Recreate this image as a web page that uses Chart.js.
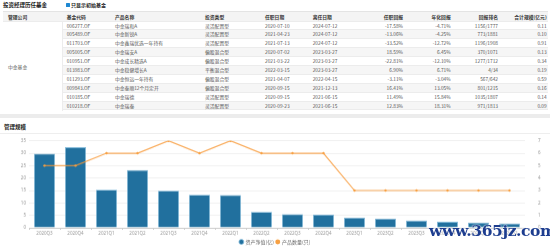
<!DOCTYPE html>
<html>
<head>
<meta charset="utf-8">
<script src="https://cdn.jsdelivr.net/npm/chart.js@4/dist/chart.umd.min.js"></script>
<style>
html, body { margin: 0; padding: 0; width: 550px; height: 246px; overflow: hidden; background: #fff; font-family: "Noto Sans CJK SC", "Noto Sans", sans-serif; }
.title { position: absolute; left: 3px; top: 1px; font-size: 5.5px; line-height: 8px; font-weight: bold; color: #222; }
.chk { position: absolute; left: 65.5px; top: 2.8px; width: 4px; height: 4px; background: #1e88d2; border-radius: 0.5px; }
.chk-text { position: absolute; left: 71px; top: 1px; font-size: 5px; line-height: 8px; font-weight: bold; color: #222; }
.tbl { position: absolute; left: 3px; top: 11px; width: 545px; }
.row { position: absolute; left: 0; width: 545px; height: 8.9px; font-size: 4.8px; line-height: 8.9px; color: #555; border-bottom: 0.5px solid #ececec; box-sizing: border-box; }
.row.head { background: #f4f4f4; color: #333; font-weight: bold; height: 10.5px; line-height: 10.5px; border-top: 0.5px solid #e4e4e4; }
.row.alt { background: #f6f6f6; }
.row span { position: absolute; top: 0; white-space: nowrap; }
.company { position: absolute; left: 3px; top: 21.5px; width: 60px; height: 89px; background: #fff; font-size: 4.8px; line-height: 89px; color: #555; padding-left: 5px; box-sizing: border-box; border-right: 0.5px solid #ececec; }
.band { position: absolute; left: 0; top: 113.5px; width: 550px; height: 4.5px; background: #ececec; }
.sub { position: absolute; left: 4px; top: 123px; font-size: 5.5px; line-height: 8px; font-weight: bold; color: #222; }
.sep { position: absolute; left: 0; top: 133px; width: 550px; height: 0.5px; background: #eeeeee; }
.wrap { position: absolute; left: 0; top: 133px; width: 550px; height: 120.5px; }
.mark { position: absolute; left: 429px; top: 221px; font-family: "DejaVu Serif", serif; font-weight: bold; font-size: 15.5px; letter-spacing: -0.4px; color: #1d3d8f; text-shadow: 0 0 1px #fff, 0 0 2px #fff; }
</style>
</head>
<body>
<div class="title">投资经理历任基金</div>
<div class="chk"></div>
<div class="chk-text">只显示初始基金</div>
<div class="tbl" id="tbl"></div>
<div class="company">中金基金</div>
<div class="band"></div>
<div class="sub">管理规模</div>
<div class="sep"></div>
<div class="wrap"><canvas id="chartScale"></canvas></div>
<div class="mark">www.365jz.com</div>
<script>
// table
var heads = ['管理公司', '基金代码', '产品名称', '投资类型', '任职日期', '离任日期', '任职回报', '年化回报', '回报排名', '合计规模(亿元)'];
var codes = ['006277.OF', '005489.OF', '011703.OF', '005005.OF', '010951.OF', '013983.OF', '011293.OF', '009843.OF', '010185.OF', '010218.OF'];
var names = ['中金瑞和A', '中金新锐A', '中金鑫瑞优选一年持有', '中金瑞安A', '中金成长精选A', '中金稳健增长A', '中金恒远一年持有', '中金泰顺12个月定开', '中金瑞德', '中金瑞泰'];
var types = ['灵活配置型', '灵活配置型', '灵活配置型', '偏股混合型', '偏股混合型', '平衡混合型', '偏股混合型', '偏股混合型', '灵活配置型', '灵活配置型'];
var startDates = ['2020-07-10', '2021-04-23', '2021-07-13', '2020-07-02', '2021-03-22', '2022-03-15', '2021-04-07', '2020-09-15', '2020-09-15', '2020-09-23'];
var endDates = ['2024-07-12', '2024-07-12', '2024-07-12', '2023-03-27', '2023-03-27', '2023-03-27', '2022-04-15', '2021-12-13', '2021-06-15', '2021-06-15'];
var returns = ['-17.58%', '-13.06%', '-33.52%', '18.59%', '-22.81%', '6.90%', '-3.11%', '16.41%', '11.49%', '12.83%'];
var annual = ['-4.71%', '-4.25%', '-12.72%', '6.45%', '-12.10%', '6.71%', '-3.04%', '13.05%', '15.84%', '18.31%'];
var ranks = ['1156/1777', '773/1881', '1196/1908', '370/1071', '1277/1712', '4/34', '567/642', '801/1215', '1035/1807', '971/1813'];
var sizes = ['0.11', '0.10', '0.91', '0.13', '0.34', '0.19', '0.59', '0.16', '0.14', '0.09'];

// column anchors: [x, align]
var cols = [[5, 'l'], [63.7, 'l'], [112, 'l'], [202, 'l'], [262, 'l'], [309.7, 'l'], [400, 'r'], [447.7, 'r'], [495, 'r'], [543.7, 'r']];

function cell(text, i) {
	var c = cols[i];
	if (c[1] == 'l') return `<span style="left:${c[0]}px">${text}</span>`;
	return `<span style="right:${545 - c[0]}px">${text}</span>`;
}

var tbl = document.getElementById('tbl');
var html = '<div class="row head" style="top:0">' + heads.map(cell).join('') + '</div>';
codes.forEach(function (code, r) {
	var vals = ['', code, names[r], types[r], startDates[r], endDates[r], returns[r], annual[r], ranks[r], sizes[r]];
	html += `<div class="row${r % 2 ? ' alt' : ''}" style="top:${10.5 + r * 8.9}px">` + vals.map(cell).join('') + '</div>';
});
tbl.innerHTML = html;

// chart
var quarters = ['2020Q3', '2020Q4', '2021Q1', '2021Q2', '2021Q3', '2021Q4', '2022Q1', '2022Q2',
	'2022Q3', '2022Q4', '2023Q1', '2023Q2', '2023Q3', '2023Q4', '2024Q1', '2024Q2'];
var netAssets = [29.8, 32.4, 15.3, 23.2, 14.9, 13.3, 13.2, 6.4, 5.5, 5.3, 4.1, 3.7, 2.9, 2.4, 2.0, 1.7];
var fundCount = [5, 5, 6, 6, 7, 6, 7, 6, 6, 6, 3, 3, 3, 3, 3, 3];
var leftTicks = [0, 5, 10, 15, 20, 25, 30, 35];
var rightTicks = [0, 1, 2, 3, 4, 5, 6, 7];

var tickFont = { size: 4.5, family: '"Noto Sans", sans-serif' };

var chartScale = new Chart(document.getElementById('chartScale'), {
	data: {
		labels: quarters,
		datasets: [
			{
				type: 'line',
				label: '产品数量(只)',
				data: fundCount,
				yAxisID: 'y1',
				borderColor: 'rgba(247,150,50,0.8)',
				backgroundColor: '#f7a042',
				borderWidth: 1.2,
				pointRadius: 1.2,
				pointBackgroundColor: '#f7a042',
				pointBorderWidth: 0,
				tension: 0
			},
			{
				type: 'bar',
				label: '资产净值(亿)',
				data: netAssets,
				yAxisID: 'y',
				backgroundColor: '#21709e',
				borderColor: '#86bcdb',
				borderWidth: 0.8,
				barPercentage: 0.68,
				categoryPercentage: 1
			}
		]
	},
	options: {
		responsive: true,
		maintainAspectRatio: false,
		devicePixelRatio: 1,
		animation: false,
		layout: { padding: { top: 5.3, left: 0, right: 0, bottom: 0 } },
		plugins: {
			tooltip: { enabled: false },
			legend: {
				position: 'bottom',
				reverse: true,
				labels: {
					usePointStyle: true,
					pointStyle: 'circle',
					boxWidth: 3.5,
					boxHeight: 3.5,
					padding: 2,
					color: '#666',
					font: { size: 5, family: '"Noto Sans CJK SC", sans-serif' }
				}
			}
		},
		scales: {
			x: {
				offset: true,
				grid: { display: true, drawOnChartArea: false, drawTicks: true, tickLength: 2, color: '#ccc', offset: true },
				border: { color: '#ccc' },
				ticks: { color: '#999', font: tickFont, padding: 1.5, maxRotation: 0, autoSkip: false },
				afterFit: function (s) { s.height = 9.5; }
			},
			y: {
				position: 'left',
				min: 0, max: 35,
				afterBuildTicks: function (s) { s.ticks = leftTicks.map(v => ({ value: v })); },
				grid: { color: '#f1f1f1', drawTicks: false },
				border: { display: false },
				ticks: { color: '#999', font: tickFont, padding: 3 },
				afterFit: function (s) { s.width = 29; }
			},
			y1: {
				position: 'right',
				min: 0, max: 7,
				afterBuildTicks: function (s) { s.ticks = rightTicks.map(v => ({ value: v })); },
				grid: { display: false },
				border: { display: false },
				ticks: { color: '#999', font: tickFont, padding: 5 },
				afterFit: function (s) { s.width = 25; }
			}
		}
	}
});
</script>
</body>
</html>
